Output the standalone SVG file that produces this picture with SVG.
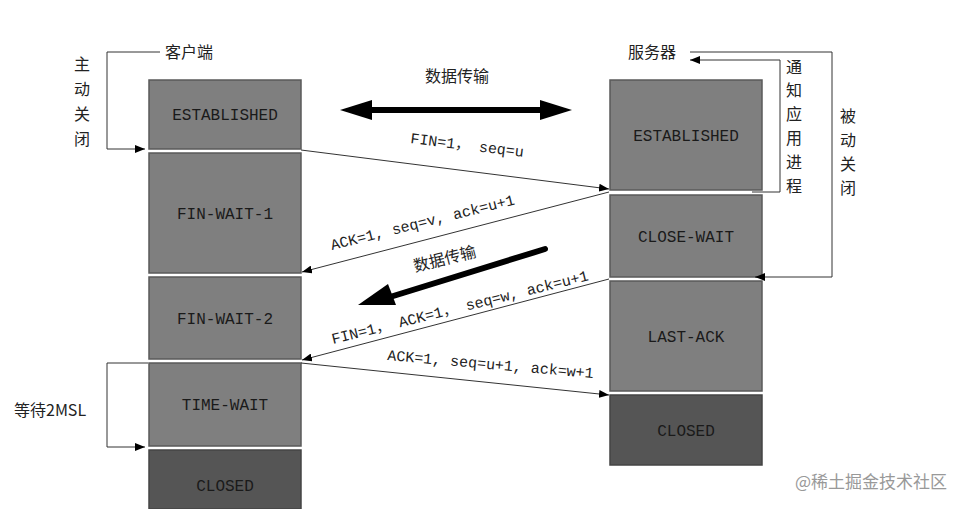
<svg xmlns="http://www.w3.org/2000/svg" width="971" height="509" viewBox="0 0 971 509">
<style>
.box{fill:#7f7f7f;stroke:#5a5a5a;stroke-width:1.5}
.dark{fill:#555;stroke:#444;stroke-width:1.5}
.st{font-family:"Liberation Mono","Noto Sans CJK SC",monospace;font-size:16px;fill:#1a1a1a;text-anchor:middle}
.lbl{font-family:"Liberation Mono","Noto Sans CJK SC",monospace;font-size:15px;fill:#222}
.cn{font-family:"Noto Sans CJK SC",sans-serif;font-size:16px;fill:#222}
.ln{stroke:#333;stroke-width:1;fill:none}
</style>
<defs>
<marker id="a" markerWidth="10" markerHeight="8" refX="10" refY="4" orient="auto" markerUnits="userSpaceOnUse"><path d="M0,0L10,4L0,8z" fill="#000"/></marker>
</defs>
<rect width="971" height="509" fill="#fff"/>
<g id="client">
<g id="c-est"><rect class="box" x="149" y="80" width="152" height="69"/><text class="st" x="225" y="120">ESTABLISHED</text></g>
<g id="c-fw1"><rect class="box" x="149" y="153" width="152" height="120"/><text class="st" x="225" y="219">FIN-WAIT-1</text></g>
<g id="c-fw2"><rect class="box" x="149" y="277" width="152" height="82"/><text class="st" x="225" y="324">FIN-WAIT-2</text></g>
<g id="c-tw"><rect class="box" x="149" y="363" width="152" height="83"/><text class="st" x="225" y="410">TIME-WAIT</text></g>
<g id="c-closed"><rect class="dark" x="149" y="450" width="152" height="59"/><text class="st" x="225" y="491">CLOSED</text></g>
</g>
<g id="server">
<g id="s-est"><rect class="box" x="610" y="80" width="152" height="110"/><text class="st" x="686" y="141">ESTABLISHED</text></g>
<g id="s-cw"><rect class="box" x="610" y="195" width="152" height="82"/><text class="st" x="686" y="242">CLOSE-WAIT</text></g>
<g id="s-la"><rect class="box" x="610" y="281" width="152" height="110"/><text class="st" x="686" y="342">LAST-ACK</text></g>
<g id="s-closed"><rect class="dark" x="610" y="395" width="152" height="70"/><text class="st" x="686" y="436">CLOSED</text></g>
</g>
<g id="connectors">
<line class="ln" x1="301" y1="150" x2="609" y2="189" marker-end="url(#a)"/>
<line class="ln" x1="609" y1="192" x2="302" y2="272" marker-end="url(#a)"/>
<line class="ln" x1="609" y1="279" x2="302" y2="360" marker-end="url(#a)"/>
<line class="ln" x1="301" y1="363" x2="609" y2="395" marker-end="url(#a)"/>
<polyline class="ln" points="160,52 107,52 107,149 145,149" marker-end="url(#a)"/>
<polyline class="ln" points="148,363 107,363 107,447 145,447" marker-end="url(#a)"/>
<polyline class="ln" points="690,52 832,52 832,277 755,277" marker-end="url(#a)"/>
<polyline class="ln" points="752,192 780,192 780,60 690,60" marker-end="url(#a)"/>
<line x1="370" y1="110" x2="542" y2="110" stroke="#000" stroke-width="6"/>
<path d="M340,110L372,100L372,120z" fill="#000"/>
<path d="M572,110L540,100L540,120z" fill="#000"/>
<line x1="545" y1="249" x2="390" y2="297" stroke="#000" stroke-width="6" stroke-linecap="round"/>
<path d="M358,305L388,284L396,305z" fill="#000"/>
</g>
<g id="labels">
<text class="cn" x="165" y="58">客户端</text>
<text class="cn" x="628" y="58">服务器</text>
<text class="cn" x="425" y="82">数据传输</text>
<text class="cn" x="415" y="272" transform="rotate(-14 415 272)">数据传输</text>
<text class="cn" x="74" y="70">主</text><text class="cn" x="74" y="95">动</text><text class="cn" x="74" y="120">关</text><text class="cn" x="74" y="145">闭</text>
<text class="cn" x="786" y="73">通</text><text class="cn" x="786" y="96">知</text><text class="cn" x="786" y="120">应</text><text class="cn" x="786" y="144">用</text><text class="cn" x="786" y="168">进</text><text class="cn" x="786" y="192">程</text>
<text class="cn" x="840" y="122">被</text><text class="cn" x="840" y="146">动</text><text class="cn" x="840" y="170">关</text><text class="cn" x="840" y="194">闭</text>
<text class="cn" x="14" y="416">等待2MSL</text>
<text class="lbl" x="410" y="143" transform="rotate(7 410 143)">FIN=1， seq=u</text>
<text class="lbl" x="332" y="250" transform="rotate(-14 332 250)">ACK=1, seq=v, ack=u+1</text>
<text class="lbl" x="333" y="344" transform="rotate(-14 333 344)">FIN=1， ACK=1， seq=w, ack=u+1</text>
<text class="lbl" x="387" y="360" transform="rotate(5 387 360)">ACK=1, seq=u+1, ack=w+1</text>
<text x="795" y="488" font-family="Noto Sans CJK SC,sans-serif" font-size="17" fill="#999">@稀土掘金技术社区</text>
</g>
</svg>
